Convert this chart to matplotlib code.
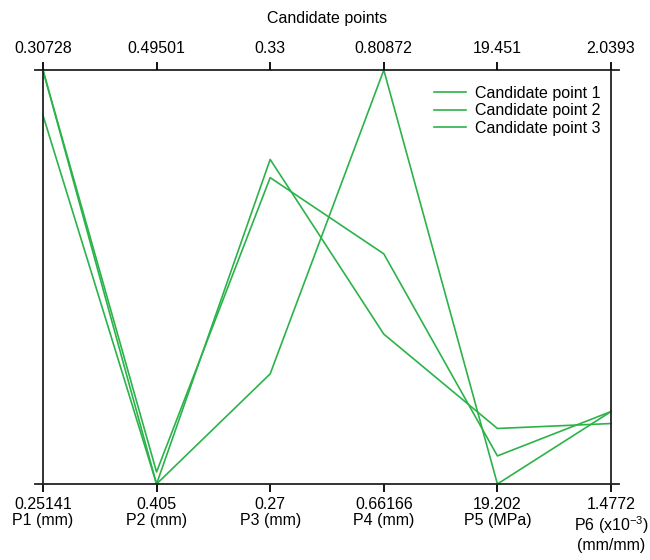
import numpy as np
import matplotlib.pyplot as plt

plt.rcParams['font.family'] = ['Liberation Sans', 'DejaVu Sans']
plt.rcParams['mathtext.fontset'] = 'custom'
plt.rcParams['mathtext.rm'] = 'Liberation Sans'
plt.rcParams['mathtext.it'] = 'Liberation Sans'

# axis names and their ranges (bottom = min, top = max)
axis_names = ["P1 (mm)", "P2 (mm)", "P3 (mm)", "P4 (mm)", "P5 (MPa)",
              "P6 (x10$^{-3}$)\n(mm/mm)"]
axis_min = [0.25141, 0.405, 0.27, 0.66166, 19.202, 1.4772]
axis_max = [0.30728, 0.49501, 0.33, 0.80872, 19.451, 2.0393]
min_labels = ["0.25141", "0.405", "0.27", "0.66166", "19.202", "1.4772"]
max_labels = ["0.30728", "0.49501", "0.33", "0.80872", "19.451", "2.0393"]

# candidate values
cand1 = [0.30728, 0.405, 0.31704, 0.71490, 19.2354, 1.5593]
cand2 = [0.30728, 0.40761, 0.3144, 0.74342, 19.2189, 1.5756]
cand3 = [0.30119, 0.405, 0.28596, 0.80872, 19.202, 1.5756]
labels = ["Candidate point 1", "Candidate point 2", "Candidate point 3"]

green = '#2bb34a'
fs = 11.5

fig = plt.figure(figsize=(6.5, 5.6), dpi=100)
ax = fig.add_axes([0.0538, 0.1357, 0.8985, 0.7393])

lo = np.array(axis_min)
hi = np.array(axis_max)
x = np.arange(len(axis_names))
for vals, lab in zip([cand1, cand2, cand3], labels):
    norm = (np.array(vals) - lo) / (hi - lo)
    ax.plot(x, norm, color=green, lw=1.2, label=lab, clip_on=False)

ax.set_xlim(-0.07, len(x) - 1 + 0.07)
ax.set_ylim(0, 1)
ax.axvline(0, color='#222222', lw=1.3)
ax.axvline(len(x) - 1, color='#222222', lw=1.3)
for s in ['left', 'right']:
    ax.spines[s].set_visible(False)
for s in ['top', 'bottom']:
    ax.spines[s].set_linewidth(1.3)
    ax.spines[s].set_color('#222222')
ax.set_yticks([])

ax.set_xticks(x)
ax.set_xticklabels([m + "\n" + n for m, n in zip(min_labels, axis_names)],
                   fontsize=fs, linespacing=1.15)
ax.tick_params(axis='x', direction='out', length=6, width=1.3, pad=3)

ax2 = ax.twiny()
ax2.set_xlim(ax.get_xlim())
ax2.set_xticks(x)
ax2.set_xticklabels(max_labels, fontsize=fs)
ax2.tick_params(axis='x', direction='out', length=6, width=1.3, pad=4)
ax2.set_xlabel("Candidate points", fontsize=fs, labelpad=13)
for s in ['left', 'right', 'top', 'bottom']:
    ax2.spines[s].set_visible(False)

ax.legend(loc='upper right', bbox_to_anchor=(0.985, 0.985), frameon=False,
          fontsize=fs, handlelength=2.0, handletextpad=0.6,
          labelspacing=0.15, borderaxespad=0.2)

fig.savefig("out.png", dpi=100)
